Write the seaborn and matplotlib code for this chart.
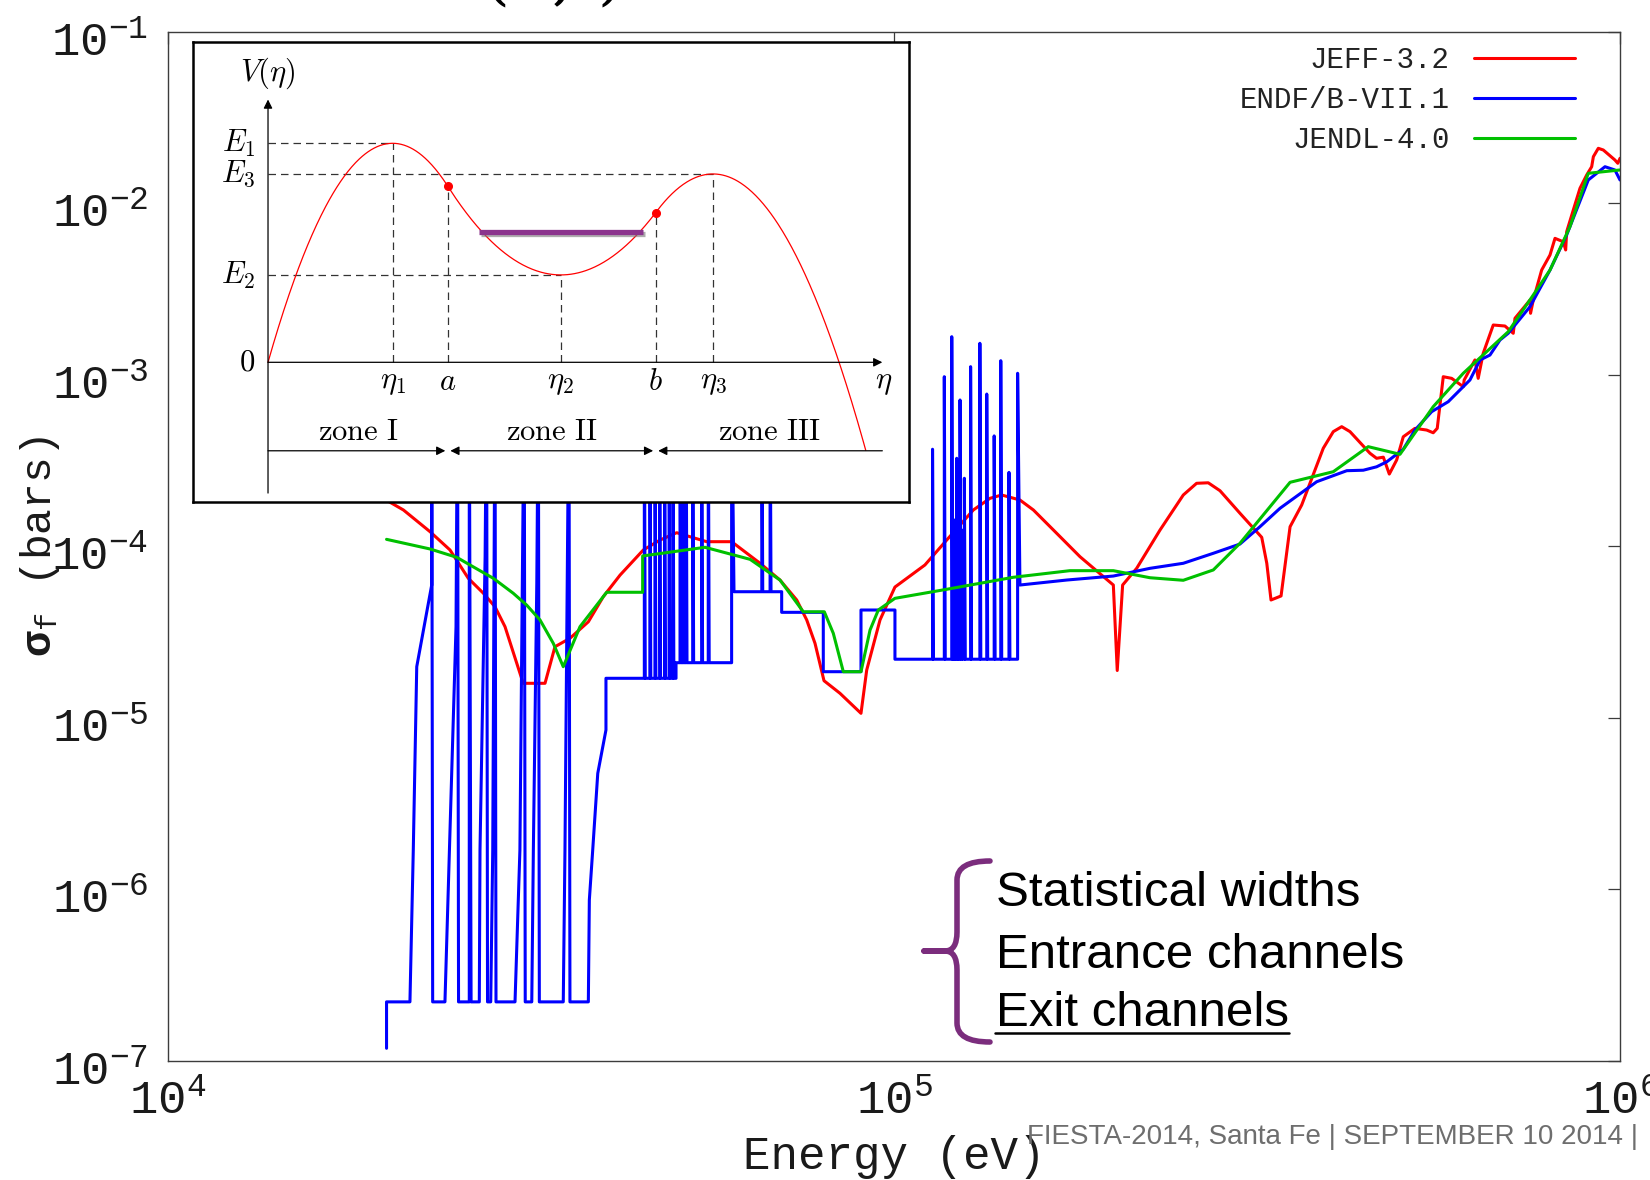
import numpy as np
import pandas as pd
import matplotlib
matplotlib.use("Agg")
import matplotlib.pyplot as plt
import matplotlib.transforms as mtransforms
from matplotlib import patheffects as pe
from matplotlib.lines import Line2D
from matplotlib.path import Path
from matplotlib.patches import PathPatch
from matplotlib.ticker import FixedLocator, FuncFormatter, NullLocator
import seaborn as sns

# ---------------------------------------------------------------
# Evaluated fission cross sections: energy (eV) and sigma_f (barns)
# ---------------------------------------------------------------
jeff_energy = [2.00e4, 2.110e4, 2.296e4, 2.446e4, 2.592e4, 2.719e4, 2.821e4, 2.912e4,
               3.085e4, 3.306e4, 3.412e4, 3.578e4, 3.793e4, 3.977e4, 4.195e4, 4.515e4,
               4.761e4, 5.020e4, 5.236e4, 5.521e4, 5.975e4, 6.539e4, 6.966e4, 7.345e4,
               7.582e4, 7.784e4, 8.009e4, 8.425e4, 9.006e4, 9.171e4, 9.566e4, 1.003e5,
               1.103e5, 1.182e5, 1.286e5, 1.356e5, 1.407e5, 1.491e5, 1.556e5, 1.658e5,
               1.804e5, 2.005e5, 2.030e5, 2.065e5, 2.159e5, 2.325e5, 2.503e5, 2.611e5,
               2.709e5, 2.812e5, 2.996e5, 3.210e5, 3.262e5, 3.306e5, 3.413e5, 3.512e5,
               3.644e5, 3.902e5, 4.028e5, 4.137e5, 4.247e5, 4.524e5, 4.621e5, 4.721e5,
               4.811e5, 4.925e5, 5.029e5, 5.219e5, 5.416e5, 5.530e5, 5.601e5, 5.709e5,
               5.863e5, 6.083e5, 6.101e5, 6.312e5, 6.378e5, 6.480e5, 6.690e5, 6.943e5,
               7.128e5, 7.167e5, 7.516e5, 7.530e5, 7.595e5, 7.800e5, 8.009e5, 8.137e5,
               8.354e5, 8.417e5, 8.444e5, 8.623e5, 8.808e5, 8.997e5, 9.141e5, 9.190e5,
               9.335e5, 9.484e5, 9.840e5, 9.930e5, 1.0e6]
jeff_xs = [1.85e-4, 1.624e-4, 1.213e-4, 9.49e-5, 6.49e-5, 5.31e-5, 4.43e-5, 3.39e-5,
           1.585e-5, 1.585e-5, 2.59e-5, 2.90e-5, 3.62e-5, 5.07e-5, 6.78e-5, 9.49e-5,
           1.085e-4, 1.197e-4, 1.134e-4, 1.061e-4, 1.061e-4, 7.94e-5, 6.34e-5, 4.85e-5,
           3.71e-5, 2.71e-5, 1.641e-5, 1.386e-5, 1.059e-5, 1.894e-5, 3.71e-5, 5.77e-5,
           7.76e-5, 1.085e-4, 1.624e-4, 1.90e-4, 1.986e-4, 1.857e-4, 1.624e-4, 1.241e-4,
           8.67e-5, 5.93e-5, 1.882e-5, 5.93e-5, 7.42e-5, 1.241e-4, 1.986e-4, 2.324e-4,
           2.34e-4, 2.104e-4, 1.554e-4, 1.125e-4, 7.94e-5, 4.85e-5, 5.12e-5, 1.297e-4,
           1.737e-4, 3.72e-4, 4.65e-4, 4.97e-4, 4.65e-4, 3.48e-4, 3.25e-4, 3.30e-4,
           2.63e-4, 3.18e-4, 4.34e-4, 4.86e-4, 4.75e-4, 4.58e-4, 4.86e-4, 9.72e-4,
           9.51e-4, 8.50e-4, 9.30e-4, 1.217e-3, 9.51e-4, 1.331e-3, 1.946e-3, 1.92e-3,
           1.741e-3, 2.13e-3, 2.72e-3, 2.277e-3, 2.72e-3, 4.07e-3, 4.98e-3, 6.23e-3,
           5.95e-3, 5.33e-3, 6.81e-3, 9.11e-3, 1.220e-2, 1.458e-2, 1.630e-2, 1.865e-2,
           2.087e-2, 2.04e-2, 1.784e-2, 1.707e-2, 1.825e-2]

endf_energy = [2.000e4, 2.000e4, 2.154e4, 2.177e4, 2.201e4, 2.308e4, 2.308e4, 2.315e4,
               2.407e4, 2.493e4, 2.505e4, 2.513e4, 2.600e4, 2.600e4, 2.615e4, 2.684e4,
               2.690e4, 2.734e4, 2.747e4, 2.755e4, 2.783e4, 2.801e4, 2.821e4, 2.830e4,
               3.006e4, 3.053e4, 3.095e4, 3.105e4, 3.170e4, 3.186e4, 3.221e4, 3.237e4,
               3.247e4, 3.503e4, 3.522e4, 3.567e4, 3.578e4, 3.793e4, 3.805e4, 3.846e4,
               3.908e4, 4.011e4, 4.011e4, 5.009e4, 5.009e4, 5.975e4, 5.975e4, 6.020e4,
               7.003e4, 7.003e4, 7.991e4, 7.991e4, 9.006e4, 9.006e4, 1.003e5, 1.003e5,
               1.480e5, 1.480e5, 1.491e5, 1.729e5, 2.005e5, 2.252e5, 2.503e5, 2.753e5,
               2.996e5, 3.192e5, 3.402e5, 3.821e5, 4.204e5, 4.430e5, 4.621e5, 4.772e5,
               5.029e5, 5.219e5, 5.503e5, 5.800e5, 6.213e5, 6.416e5, 6.620e5, 6.834e5,
               7.015e5, 7.516e5, 8.009e5, 8.444e5, 9.043e5, 9.535e5, 9.840e5, 1.0e6]
endf_xs = [1.18e-7, 2.2e-7, 2.2e-7, 1.69e-6, 1.98e-5, 5.93e-5, 1.0e-3, 2.2e-7,
           2.2e-7, 3.39e-5, 1.0e-3, 2.2e-7, 2.2e-7, 1.0e-3, 2.2e-7, 2.2e-7,
           1.69e-6, 8.67e-5, 1.0e-3, 2.2e-7, 2.2e-7, 1.69e-6, 1.0e-3, 2.2e-7,
           2.2e-7, 1.69e-6, 1.0e-3, 2.2e-7, 2.2e-7, 1.69e-6, 6.09e-5, 1.0e-3,
           2.2e-7, 2.2e-7, 1.69e-6, 1.0e-3, 2.2e-7, 2.2e-7, 8.64e-7, 1.69e-6,
           4.73e-6, 8.47e-6, 1.695e-5, 1.695e-5, 2.09e-5, 2.09e-5, 1.0e-3, 5.42e-5,
           5.42e-5, 4.11e-5, 4.11e-5, 1.852e-5, 1.852e-5, 4.24e-5, 4.24e-5, 2.19e-5,
           2.19e-5, 1.018e-3, 5.93e-5, 6.34e-5, 6.69e-5, 7.42e-5, 7.94e-5, 9.08e-5,
           1.028e-4, 1.297e-4, 1.662e-4, 2.373e-4, 2.752e-4, 2.77e-4, 2.90e-4, 3.10e-4,
           3.67e-4, 4.75e-4, 6.08e-4, 6.95e-4, 9.30e-4, 1.217e-3, 1.30e-3, 1.591e-3,
           1.741e-3, 2.488e-3, 4.07e-3, 6.52e-3, 1.364e-2, 1.630e-2, 1.56e-2, 1.364e-2]

# narrow spikes standing on the flat ENDF plateaus
endf_spike_energy = [4.53e4, 4.61e4, 4.685e4, 4.755e4, 4.83e4, 4.90e4, 4.96e4,
                     5.073e4, 5.127e4, 5.171e4, 5.281e4, 5.433e4, 5.548e4,
                     6.575e4, 6.750e4,
                     1.130e5, 1.173e5, 1.201e5, 1.207e5, 1.213e5, 1.220e5, 1.226e5,
                     1.233e5, 1.240e5, 1.250e5, 1.275e5, 1.313e5, 1.342e5, 1.374e5,
                     1.403e5, 1.440e5]
endf_spike_peak = [1.0e-3, 1.0e-3, 1.0e-3, 1.0e-3, 1.0e-3, 1.0e-3, 1.0e-3,
                   1.0e-3, 1.0e-3, 1.0e-3, 1.0e-3, 1.0e-3, 1.0e-3,
                   1.0e-3, 1.0e-3,
                   3.67e-4, 9.72e-4, 1.663e-3, 1.24e-4, 1.42e-4, 3.25e-4, 1.52e-4,
                   7.11e-4, 1.24e-4, 2.485e-4, 1.112e-3, 1.522e-3, 7.70e-4, 4.39e-4,
                   1.205e-3, 2.69e-4]

jendl_energy = [2.0e4, 2.296e4, 2.499e4, 2.606e4, 2.806e4, 2.989e4, 3.119e4, 3.254e4,
                3.394e4, 3.503e4, 3.694e4, 4.020e4, 4.506e4, 4.506e4, 5.492e4, 6.336e4,
                6.966e4, 7.500e4, 8.017e4, 8.249e4, 8.515e4, 9.006e4, 9.268e4, 9.515e4,
                1.003e5, 1.182e5, 1.460e5, 1.747e5, 2.005e5, 2.252e5, 2.503e5, 2.753e5,
                2.996e5, 3.512e5, 4.028e5, 4.500e5, 4.977e5, 5.530e5, 6.083e5, 7.015e5,
                7.595e5, 8.009e5, 8.532e5, 9.043e5, 1.0e6]
jendl_xs = [1.095e-4, 9.62e-5, 8.60e-5, 7.76e-5, 6.49e-5, 5.31e-5, 4.53e-5, 3.71e-5,
            2.71e-5, 1.98e-5, 3.39e-5, 5.38e-5, 5.38e-5, 8.76e-5, 9.84e-5, 8.37e-5,
            6.34e-5, 4.14e-5, 4.14e-5, 3.10e-5, 1.852e-5, 1.852e-5, 3.24e-5, 4.24e-5,
            4.96e-5, 5.60e-5, 6.58e-5, 7.19e-5, 7.19e-5, 6.54e-5, 6.32e-5, 7.26e-5,
            1.038e-4, 2.355e-4, 2.715e-4, 3.80e-4, 3.43e-4, 6.50e-4, 1.018e-3, 1.778e-3,
            2.91e-3, 4.07e-3, 7.28e-3, 1.492e-2, 1.56e-2]

series_names = ["JEFF-3.2", "ENDF/B-VII.1", "JENDL-4.0"]
series_colors = ["#ff0000", "#0000ff", "#00c000"]

x_ticks = [1e4, 1e5, 1e6]
y_ticks = [1e-7, 1e-6, 1e-5, 1e-4, 1e-3, 1e-2, 1e-1]

# ---------------------------------------------------------------
# Double-humped fission barrier sketch (arbitrary units)
# ---------------------------------------------------------------
hump_eta = [1.0, 2.35, 3.571]        # eta_1, eta_2, eta_3
hump_energy = [1.0, 0.399, 0.86]     # E_1, E_2, E_3
turning_eta = [1.443, 3.111]         # a, b
well_inflection = [0.33, 0.63]
outer_zero_eta = 4.583
curve_end_eta = 4.797
class_level = 0.596
class_span = [1.69, 3.01]
eta_axis_end = 4.93
v_axis_span = [-0.597, 1.2]
zone_names = ["zone I", "zone II", "zone III"]

side_notes = ["Statistical widths", "Entrance channels", "Exit channels"]
footer = "FIESTA-2014, Santa Fe | SEPTEMBER 10 2014 |"


def insert_spikes(energy, xs, spike_energy, spike_peak, rel_width=1.003):
    pts = list(zip(energy, xs))
    spikes = sorted(zip(spike_energy, spike_peak))
    out_e, out_s = [], []
    j = 0
    for k, (e, s) in enumerate(pts):
        out_e.append(e)
        out_s.append(s)
        nxt = pts[k + 1][0] if k + 1 < len(pts) else np.inf
        while j < len(spikes) and e <= spikes[j][0] < nxt:
            se, sp = spikes[j]
            out_e += [se, se, se * rel_width]
            out_s += [s, sp, s]
            j += 1
    return out_e, out_s


def barrier_curve(eta):
    (eta1, eta2, eta3), (e1, e2, e3) = hump_eta, hump_energy
    c1, c2 = well_inflection
    k_out = e3 / (outer_zero_eta - eta3) ** 2
    eta = np.asarray(eta, dtype=float)
    v = np.empty_like(eta)
    m = eta <= eta1
    v[m] = e1 * (1 - (1 - eta[m] / eta1) ** 2)
    m = (eta > eta1) & (eta <= eta2)
    t = (eta[m] - eta1) / (eta2 - eta1)
    v[m] = e2 + (e1 - e2) * np.where(t < c1, 1 - t ** 2 / c1, (1 - t) ** 2 / (1 - c1))
    m = (eta > eta2) & (eta <= eta3)
    t = (eta[m] - eta2) / (eta3 - eta2)
    v[m] = e2 + (e3 - e2) * np.where(t < c2, t ** 2 / c2, 1 - (1 - t) ** 2 / (1 - c2))
    m = eta > eta3
    v[m] = e3 - k_out * (eta[m] - eta3) ** 2
    return v


# ---------------------------------------------------------------
sns.set_theme(style="white")
plt.rcParams["font.family"] = ["Liberation Mono", "DejaVu Sans Mono"]
plt.rcParams["mathtext.fontset"] = "custom"
plt.rcParams["mathtext.rm"] = "Liberation Mono"
plt.rcParams["mathtext.it"] = "Liberation Mono:italic"
plt.rcParams["mathtext.bf"] = "Liberation Mono:bold"

W, H = 1650, 1180
fig = plt.figure(figsize=(W / 100, H / 100), dpi=100, facecolor="white")
ax = fig.add_axes([168 / W, 1 - 1060.6 / H, (1620 - 168) / W, (1060.6 - 31.6) / H])
ax.set_xscale("log")
ax.set_yscale("log")

endf_e, endf_s = insert_spikes(endf_energy, endf_xs, endf_spike_energy, endf_spike_peak)
frames = [
    pd.DataFrame({"energy": jeff_energy, "xs": jeff_xs}),
    pd.DataFrame({"energy": endf_e, "xs": endf_s}),
    pd.DataFrame({"energy": jendl_energy, "xs": jendl_xs}),
]
for df, name, col in zip(frames, series_names, series_colors):
    sns.lineplot(data=df, x="energy", y="xs", sort=False, estimator=None,
                 color=col, lw=2.2, label=name, ax=ax)

ax.set_xlim(x_ticks[0], x_ticks[-1])
ax.set_ylim(y_ticks[0], y_ticks[-1])
ax.xaxis.set_major_locator(FixedLocator(x_ticks))
ax.yaxis.set_major_locator(FixedLocator(y_ticks))
ax.xaxis.set_minor_locator(NullLocator())
ax.yaxis.set_minor_locator(NullLocator())
exp_fmt = FuncFormatter(lambda v, p: r"$\mathrm{10^{%d}}$" % int(round(np.log10(v))))
ax.xaxis.set_major_formatter(exp_fmt)
ax.yaxis.set_major_formatter(exp_fmt)
ax.tick_params(which="major", direction="in", length=8.5, width=0.9, color="#3c3c3c",
               top=True, right=True, labelsize=34, labelcolor="#1a1a1a")
ax.tick_params(axis="x", pad=14)
ax.tick_params(axis="y", pad=14)
# nudge the y tick labels down so the mantissa sits on the tick
shift = mtransforms.ScaledTranslation(0, -5 / 72, fig.dpi_scale_trans)
for lab in ax.get_yticklabels():
    lab.set_transform(lab.get_transform() + shift)
for s in ax.spines.values():
    s.set_linewidth(1.0)
    s.set_color("#3c3c3c")
ax.set_facecolor("white")

ax.set_xlabel("Energy (eV)", fontsize=33, color="#1a1a1a")
ax.xaxis.set_label_coords(0.5, -0.072)
ax.set_ylabel(r"$\mathbf{\sigma}_{\mathrm{f}}$ (bars)", fontsize=31, color="#1a1a1a")
ax.yaxis.set_label_coords(-0.073, 0.5)

ax.legend(loc="upper right", bbox_to_anchor=(1575 / W, 1 - 46 / H),
          bbox_transform=fig.transFigure, frameon=False, borderpad=0,
          borderaxespad=0, handlelength=3.45, handletextpad=0.85,
          labelspacing=0.42, markerfirst=False,
          prop={"family": "Liberation Mono", "size": 21}, labelcolor="#222222")

# ---------------------------------------------------------------
# Inset: double-humped barrier
# ---------------------------------------------------------------
ins = fig.add_axes([193 / W, 1 - 501.7 / H, 716 / W, 460 / H])
ins.set_facecolor("white")
ins.set_xlim(-0.602, 5.144)
ins.set_ylim(-0.6365, 1.4639)
ins.set_xticks([])
ins.set_yticks([])
for s in ins.spines.values():
    s.set_linewidth(1.8)
    s.set_color("black")
    s.set_visible(True)

eta_grid = np.linspace(0, curve_end_eta, 800)
ins.plot(eta_grid, barrier_curve(eta_grid), color="red", lw=0.9, zorder=3)

dash = dict(color="#333333", lw=0.9, ls=(0, (6, 4)), zorder=2)
(eta1, eta2, eta3), (e1, e2, e3) = hump_eta, hump_energy
v_turn = barrier_curve(np.array(turning_eta))
for x_end, lev in zip(hump_eta, hump_energy):
    ins.plot([0, x_end], [lev, lev], **dash)
    ins.plot([x_end, x_end], [0, lev], **dash)
for x_t, v_t in zip(turning_eta, v_turn):
    ins.plot([x_t, x_t], [0, v_t], **dash)
ins.plot(turning_eta, v_turn, "o", color="red", ms=5.5, zorder=5)

ins.plot(class_span, [class_level, class_level], color="#8b348d", lw=3.8,
         solid_capstyle="butt", zorder=4,
         path_effects=[pe.SimpleLineShadow(offset=(1.5, -1.8), shadow_color="#777777", alpha=0.6),
                       pe.Normal()])

arrow_kw = dict(arrowstyle="-|>", color="black", lw=0.9, mutation_scale=13,
                shrinkA=0, shrinkB=0)
ins.annotate("", xy=(0, v_axis_span[1]), xytext=(0, v_axis_span[0]), arrowprops=arrow_kw)
ins.annotate("", xy=(eta_axis_end, 0), xytext=(0, 0), arrowprops=arrow_kw)

cm = dict(math_fontfamily="cm", fontsize=22, color="black")
ins.text(0.0, 1.32, r"$V(\eta)$", ha="center", va="center", **cm)
for lab, lev in zip([r"$E_1$", r"$E_2$", r"$E_3$"], hump_energy):
    ins.text(-0.1, lev, lab, ha="right", va="center", **cm)
ins.text(-0.1, 0, r"$0$", ha="right", va="center", **cm)
for lab, x_l in zip([r"$\eta_1$", r"$a$", r"$\eta_2$", r"$b$", r"$\eta_3$"],
                    [eta1, turning_eta[0], eta2, turning_eta[1], eta3]):
    ins.text(x_l, -0.09, lab, ha="center", va="center", **cm)
ins.text(eta_axis_end + 0.01, -0.09, r"$\eta$", ha="center", va="center", **cm)

zone_edges = [0, turning_eta[0], turning_eta[1], eta_axis_end]
zone_y = -0.404
for name, lo, hi in zip(zone_names, zone_edges[:-1], zone_edges[1:]):
    ins.text((lo + hi) / 2, -0.317, r"$\mathrm{%s}$" % name.replace(" ", r"\ "),
             ha="center", va="center", **cm)
gap = 0.02
ins.annotate("", xy=(turning_eta[0] - gap, zone_y), xytext=(0, zone_y), arrowprops=arrow_kw)
ins.annotate("", xy=(turning_eta[1] - gap, zone_y), xytext=(turning_eta[0] + gap, zone_y),
             arrowprops=dict(arrow_kw, arrowstyle="<|-|>"))
ins.annotate("", xy=(turning_eta[1] + gap, zone_y), xytext=(eta_axis_end, zone_y),
             arrowprops=arrow_kw)

# ---------------------------------------------------------------
# Side notes with brace, footer and the heading remnant at the top
# ---------------------------------------------------------------
px = mtransforms.Affine2D().scale(1 / W, -1 / H).translate(0, 1) + fig.transFigure
brace = Path(
    [(990, 861), (957, 861), (957, 880), (957, 932), (957, 951), (945, 951),
     (924, 951), (945, 951), (957, 951), (957, 970), (957, 1023), (957, 1042), (990, 1042)],
    [Path.MOVETO, Path.CURVE3, Path.CURVE3, Path.LINETO, Path.CURVE3, Path.CURVE3,
     Path.LINETO, Path.LINETO, Path.CURVE3, Path.CURVE3, Path.LINETO, Path.CURVE3, Path.CURVE3])
fig.patches.append(PathPatch(brace, transform=px, fill=False, edgecolor="#7b2d7d",
                             lw=4.0, capstyle="round", joinstyle="round"))

for note, yc in zip(side_notes, [894, 955, 1013]):
    fig.text(995.5 / W, 1 - yc / H, note, ha="left", va="center", fontsize=35.5,
             family="Liberation Sans", color="black")
fig.add_artist(Line2D([995 / W, 1289 / W], [1 - 1033 / H, 1 - 1033 / H],
                      transform=fig.transFigure, color="black", lw=1.8))

fig.text(1027 / W, 1 - 1137 / H, footer, ha="left", va="center", fontsize=20,
         family="Liberation Sans", color="#6e6e6e")
fig.text(484 / W, 1 + 4 / H, "(n,f)", ha="left", va="baseline", fontsize=48,
         family="DejaVu Serif", color="black")

fig.savefig("out.png", dpi=100, facecolor="white")
